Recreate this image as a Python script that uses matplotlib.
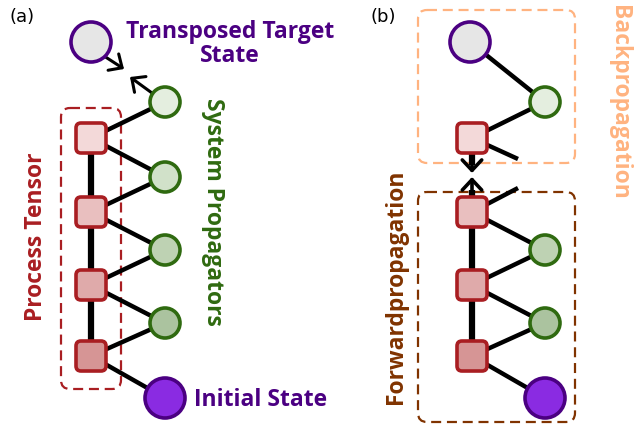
import matplotlib
matplotlib.use('Agg')
import matplotlib.pyplot as plt
from matplotlib.patches import Circle, FancyBboxPatch

# layout in pixel units (y grows downward)
SQ_Y = [138, 212, 285, 356]
GR_Y = [102, 177, 250, 323]
SQ_FILL = ['#f3d9d9', '#e9bfbf', '#dfaaaa', '#d69595']
GR_FILL = ['#e4eedf', '#d1e1c9', '#bed2b3', '#abc39f']
INIT_Y = 398
TARGET_Y = 42

RED = '#a91e22'
GREEN = '#2f6a10'
PURPLE = '#4b0082'
INIT_FILL = '#8a2be2'
TARGET_FILL = '#e6e6e6'
ORANGE = '#ffb380'
BROWN = '#803300'

FONT = 'Open Sans'
FS = 16.5

fig = plt.figure(figsize=(6.44, 4.29), dpi=100)
ax = fig.add_axes([0, 0, 1, 1])
ax.set_xlim(0, 644)
ax.set_ylim(429, 0)
ax.set_aspect('equal')
ax.axis('off')


def square(x, y, fill, size=30):
    ax.add_patch(FancyBboxPatch((x - size / 2, y - size / 2), size, size,
                                boxstyle='round,pad=0,rounding_size=5',
                                fc=fill, ec=RED, lw=2.6, zorder=5))


def circle(x, y, r, fill, edge, lw=2.6):
    ax.add_patch(Circle((x, y), r, fc=fill, ec=edge, lw=lw, zorder=5))


def line(x0, y0, x1, y1, lw=3.2):
    ax.plot([x0, x1], [y0, y1], color='black', lw=lw, zorder=2,
            solid_capstyle='butt')


def dashed_box(x0, y0, x1, y1, color):
    ax.add_patch(FancyBboxPatch((x0, y0), x1 - x0, y1 - y0,
                                boxstyle='round,pad=0,rounding_size=9',
                                fc='none', ec=color, lw=1.6,
                                ls=(0, (4.5, 2.6)), zorder=1))


def arrow(x0, y0, x1, y1, lw=2.2):
    ax.annotate('', xy=(x1, y1), xytext=(x0, y0),
                arrowprops=dict(arrowstyle='->,head_length=0.75,head_width=0.7',
                                color='black', lw=lw, shrinkA=0, shrinkB=0),
                zorder=3)


# ---------------- panel (a) ----------------
xs, xg = 91, 165
dashed_box(61, 108, 121, 389, RED)
line(xs, SQ_Y[0], xs, SQ_Y[-1], lw=4.5)
for i, y in enumerate(SQ_Y):
    line(xs, y, xg, GR_Y[i])
    nxt = GR_Y[i + 1] if i + 1 < len(GR_Y) else INIT_Y
    line(xs, y, xg, nxt)
for y, c in zip(SQ_Y, SQ_FILL):
    square(xs, y, c)
for y, c in zip(GR_Y, GR_FILL):
    circle(xg, y, 15, c, GREEN)
circle(xg, INIT_Y, 20, INIT_FILL, PURPLE)
circle(xs, TARGET_Y, 20, TARGET_FILL, PURPLE)
arrow(104, 56, 124, 69)
arrow(152, 93, 130, 77)

ax.text(22, 17, '(a)', fontsize=13, ha='center', va='center', family='DejaVu Sans')
ax.text(230, 44, 'Transposed Target\nState', fontsize=FS, fontweight='bold',
        color=PURPLE, ha='center', va='center', family=FONT, linespacing=0.95)
ax.text(194, 400, 'Initial State', fontsize=FS, fontweight='bold',
        color=PURPLE, ha='left', va='center', family=FONT)
ax.text(213, 212, 'System Propagators', fontsize=FS, fontweight='bold',
        color=GREEN, ha='center', va='center', rotation=-90, family=FONT)
ax.text(36, 237, 'Process Tensor', fontsize=FS, fontweight='bold',
        color=RED, ha='center', va='center', rotation=90, family=FONT)

# ---------------- panel (b) ----------------
xs, xg = 472, 545
dashed_box(418, 10, 575, 163, ORANGE)
dashed_box(418, 192, 575, 422, BROWN)

# backpropagation part
line(xs - 2, TARGET_Y, xg, GR_Y[0])
line(xs, SQ_Y[0], xg, GR_Y[0])
line(xs, SQ_Y[0], 518, 159)
line(xs, SQ_Y[0], xs, 165, lw=4.5)
square(xs, SQ_Y[0], SQ_FILL[0])
circle(xg, GR_Y[0], 15, GR_FILL[0], GREEN)
circle(xs - 2, TARGET_Y, 20, TARGET_FILL, PURPLE)
arrow(xs, 158, xs, 173, lw=2.6)
arrow(xs, 194, xs, 177, lw=2.6)

# forwardpropagation part
line(xs, 190, xs, SQ_Y[-1], lw=4.5)
line(xs, SQ_Y[1], 518, 188)
for i in range(1, 4):
    y = SQ_Y[i]
    if i > 1:
        line(xs, y, xg, GR_Y[i])
    nxt = GR_Y[i + 1] if i + 1 < len(GR_Y) else INIT_Y
    line(xs, y, xg, nxt)
for y, c in zip(SQ_Y[1:], SQ_FILL[1:]):
    square(xs, y, c)
for y, c in zip(GR_Y[2:], GR_FILL[2:]):
    circle(xg, y, 15, c, GREEN)
circle(xg, INIT_Y, 20, INIT_FILL, PURPLE)

ax.text(383, 17, '(b)', fontsize=13, ha='center', va='center', family='DejaVu Sans')
ax.text(619, 102, 'Backpropagation', fontsize=FS, fontweight='bold',
        color=ORANGE, ha='center', va='center', rotation=-90, family=FONT)
ax.text(396, 287, 'Forwardpropagation', fontsize=FS, fontweight='bold',
        color=BROWN, ha='center', va='center', rotation=90, family=FONT)

fig.savefig('out.png', dpi=100)
